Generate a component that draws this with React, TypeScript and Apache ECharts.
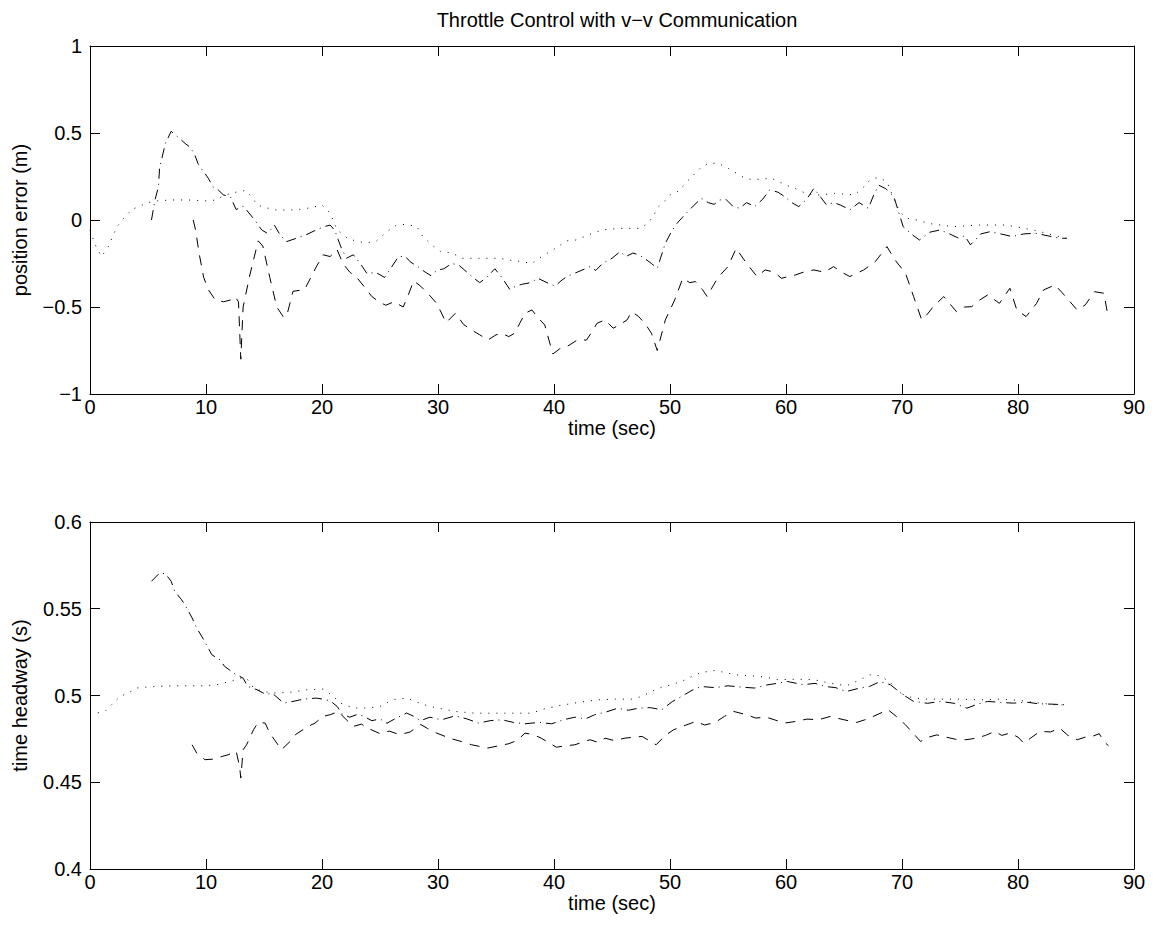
import React, { useEffect, useRef } from "react";
import * as echarts from "echarts";

// ---------- data (time [s], value) ----------
const xTicks = [0, 10, 20, 30, 40, 50, 60, 70, 80, 90];
const posTicks = [-1, -0.5, 0, 0.5, 1];
const headTicks = [0.4, 0.45, 0.5, 0.55, 0.6];

// position error (m) — dotted vehicle
const posDotted: [number, number][] = [
  [0, -0.06], [0.5, -0.15], [1.0, -0.21], [1.6, -0.15], [2.3, -0.04], [2.9, 0.01], [3.6, 0.06], [4.3, 0.08],
  [5.0, 0.1], [5.8, 0.11], [7, 0.115], [8.5, 0.115], [10, 0.11], [10.9, 0.115], [11.5, 0.14], [12.6, 0.16],
  [13.4, 0.17], [14.0, 0.13], [14.4, 0.086], [15.2, 0.07], [16.1, 0.057], [17.2, 0.057], [18.4, 0.063],
  [19.3, 0.075], [20.0, 0.086], [20.7, 0.04], [21.3, -0.057], [22.2, -0.105], [23.1, -0.125], [24.0, -0.13],
  [24.7, -0.12], [25.6, -0.067], [26.4, -0.03], [27.3, -0.024], [28.2, -0.04], [28.7, -0.096], [29.6, -0.15],
  [30.2, -0.18], [31.2, -0.19], [32.1, -0.22], [33.5, -0.22], [35.3, -0.22], [36.1, -0.23], [37.3, -0.24],
  [38.1, -0.25], [39.0, -0.207], [39.7, -0.18], [40.4, -0.15], [41.1, -0.12], [41.9, -0.115], [42.6, -0.096],
  [43.3, -0.077], [44.2, -0.057], [44.9, -0.053], [45.6, -0.048], [46.5, -0.048], [47.4, -0.048], [48.1, -0.02],
  [48.6, 0.029], [49.0, 0.076], [49.5, 0.105], [50.0, 0.144], [50.8, 0.168], [51.3, 0.21], [51.9, 0.25],
  [52.6, 0.297], [53.3, 0.326], [54.1, 0.326], [54.8, 0.306], [55.5, 0.278], [56.2, 0.249], [56.9, 0.234],
  [57.8, 0.234], [58.7, 0.24], [59.4, 0.22], [60.0, 0.2], [60.5, 0.19], [61.8, 0.15], [62.9, 0.144],
  [64.2, 0.153], [65.9, 0.144], [66.7, 0.19], [67.3, 0.234], [68.0, 0.245], [68.7, 0.22], [69.4, 0.105],
  [69.8, 0.048], [70.4, 0.01], [71.3, 0], [72.3, -0.02], [74.4, -0.038], [76.7, -0.029], [79.0, -0.029],
  [81.3, -0.057], [83.6, -0.096], [84.2, -0.105],
];

// position error (m) — dash-dot vehicle
const posDashDot: [number, number][] = [
  [5.3, 0], [5.6, 0.115], [5.9, 0.19], [6.0, 0.3], [6.5, 0.44], [7.0, 0.51], [7.3, 0.49], [7.7, 0.47],
  [8.2, 0.44], [8.6, 0.42], [9.0, 0.38], [9.3, 0.326], [9.7, 0.287], [10.2, 0.24], [10.6, 0.19], [11.1, 0.17],
  [11.5, 0.144], [12.1, 0.134], [12.6, 0.06], [13.2, 0.08], [13.5, 0.057], [14.2, 0], [14.8, -0.057],
  [15.3, -0.077], [15.9, -0.03], [16.3, -0.076], [16.9, -0.125], [17.8, -0.105], [18.6, -0.086], [19.5, -0.057],
  [20.1, -0.04], [20.7, -0.029], [21.1, -0.06], [21.6, -0.15], [22.1, -0.22], [22.7, -0.2], [23.3, -0.25],
  [23.9, -0.31], [24.6, -0.3], [25.4, -0.33], [26.0, -0.27], [26.6, -0.21], [27.2, -0.21], [27.6, -0.24],
  [28.3, -0.27], [28.9, -0.3], [29.4, -0.32], [29.9, -0.29], [30.5, -0.28], [31.2, -0.25], [31.8, -0.26],
  [32.5, -0.3], [33.0, -0.33], [33.6, -0.36], [34.2, -0.33], [34.9, -0.28], [35.5, -0.33], [36.2, -0.4],
  [36.7, -0.38], [37.2, -0.37], [38.0, -0.36], [38.6, -0.335], [39.4, -0.36], [40.1, -0.38], [40.6, -0.35],
  [41.1, -0.325], [42.0, -0.3], [43.1, -0.268], [43.6, -0.29], [44.2, -0.249], [45.0, -0.22], [45.7, -0.182],
  [46.2, -0.21], [46.8, -0.19], [47.3, -0.2], [47.8, -0.22], [48.4, -0.25], [48.9, -0.277], [49.6, -0.134],
  [50.1, -0.07], [50.6, -0.019], [51.0, 0.01], [51.4, 0.039], [52.0, 0.08], [52.7, 0.125], [53.3, 0.1],
  [53.8, 0.09], [54.3, 0.115], [54.8, 0.12], [55.4, 0.08], [56.0, 0.067], [56.6, 0.1], [57.3, 0.077],
  [58.0, 0.12], [58.6, 0.173], [59.3, 0.16], [59.9, 0.134], [60.5, 0.1], [61.1, 0.077], [61.8, 0.12],
  [62.4, 0.182], [63.0, 0.13], [63.5, 0.086], [64.1, 0.1], [64.7, 0.086], [65.5, 0.058], [66.3, 0.1],
  [67.1, 0.067], [67.6, 0.15], [68.0, 0.2], [68.6, 0.18], [69.3, 0.134], [70.1, -0.038], [70.8, -0.08],
  [71.5, -0.115], [72.4, -0.07], [73.3, -0.057], [74.1, -0.08], [74.9, -0.105], [75.4, -0.09], [75.9, -0.143],
  [76.8, -0.08], [77.6, -0.067], [78.5, -0.08], [79.5, -0.095], [80.5, -0.08], [81.5, -0.076], [82.5, -0.09],
  [83.6, -0.105], [84.2, -0.105],
];

// position error (m) — dashed vehicle
const posDashed: [number, number][] = [
  [8.9, 0], [9.1, -0.057], [9.4, -0.19], [9.8, -0.33], [10.2, -0.4], [10.8, -0.46], [11.5, -0.47], [12.1, -0.46],
  [12.5, -0.44], [12.8, -0.47], [13.0, -0.8], [13.2, -0.5], [13.8, -0.31], [14.5, -0.12], [14.9, -0.15],
  [15.5, -0.33], [16.1, -0.5], [16.7, -0.56], [17.0, -0.54], [17.5, -0.41], [18.5, -0.4], [19.5, -0.27],
  [20.1, -0.2], [20.7, -0.21], [21.3, -0.17], [21.8, -0.25], [22.4, -0.3], [23.0, -0.33], [23.6, -0.38],
  [24.3, -0.44], [24.9, -0.47], [25.5, -0.49], [26.2, -0.47], [27.0, -0.5], [27.5, -0.42], [27.9, -0.35],
  [28.5, -0.38], [29.1, -0.42], [29.9, -0.48], [30.7, -0.59], [31.5, -0.536], [32.2, -0.6], [32.9, -0.632],
  [33.6, -0.66], [34.3, -0.69], [35.0, -0.66], [35.5, -0.651], [36.1, -0.67], [36.6, -0.651], [37.5, -0.536],
  [38.1, -0.517], [38.6, -0.56], [39.2, -0.603], [39.9, -0.77], [40.5, -0.74], [41.1, -0.728], [42.0, -0.69],
  [42.8, -0.69], [43.3, -0.64], [43.7, -0.594], [44.4, -0.574], [45.1, -0.622], [45.7, -0.6], [46.3, -0.574],
  [46.7, -0.527], [47.3, -0.555], [47.9, -0.6], [48.4, -0.651], [48.9, -0.75], [49.6, -0.574], [50.4, -0.46],
  [51.1, -0.335], [51.7, -0.36], [52.2, -0.354], [52.8, -0.4], [53.2, -0.44], [53.7, -0.38], [54.2, -0.325],
  [55.0, -0.268], [55.7, -0.163], [56.6, -0.249], [57.5, -0.325], [58.2, -0.287], [59.0, -0.3], [59.6, -0.335],
  [60.8, -0.316], [61.5, -0.3], [62.4, -0.287], [63.3, -0.3], [64.1, -0.268], [64.8, -0.3], [65.5, -0.325],
  [66.7, -0.287], [67.7, -0.239], [68.7, -0.153], [69.4, -0.23], [70.3, -0.306], [71.0, -0.44], [71.7, -0.574],
  [72.2, -0.54], [72.7, -0.498], [73.6, -0.44], [74.7, -0.527], [75.4, -0.5], [76.0, -0.498], [76.7, -0.46],
  [77.4, -0.43], [78.4, -0.479], [79.3, -0.392], [79.9, -0.517], [80.7, -0.555], [81.6, -0.479], [82.2, -0.402],
  [83.2, -0.373], [84.1, -0.44], [85.1, -0.517], [85.8, -0.488], [86.6, -0.412], [87.4, -0.421], [87.8, -0.565],
];

// time headway (s) — dotted vehicle
const headDotted: [number, number][] = [
  [0, 0.489], [0.6, 0.4899], [1.3, 0.4908], [2.0, 0.4956], [2.6, 0.4995], [3.3, 0.5014], [4.0, 0.5043],
  [4.9, 0.5049], [6.0, 0.5053], [7.2, 0.5056], [8.6, 0.5056], [9.8, 0.5056], [10.9, 0.5062], [12.1, 0.5081],
  [12.9, 0.51], [13.5, 0.51], [14.1, 0.5043], [14.9, 0.5024], [15.8, 0.5014], [17.2, 0.5018], [18.7, 0.5033],
  [20.1, 0.5037], [20.8, 0.5004], [21.6, 0.4956], [22.7, 0.4928], [23.9, 0.4928], [25.0, 0.4937], [26.1, 0.4976],
  [27.3, 0.4985], [28.4, 0.4956], [29.3, 0.4937], [30.2, 0.4925], [31.5, 0.4908], [33.2, 0.4898], [34.9, 0.4898],
  [36.3, 0.4898], [38.1, 0.4898], [38.9, 0.4918], [40.4, 0.4941], [42.1, 0.496], [43.8, 0.4975], [45.3, 0.4979],
  [46.7, 0.4979], [47.6, 0.4995], [48.4, 0.5023], [49.3, 0.5048], [50.1, 0.5062], [51.0, 0.5081], [51.9, 0.511],
  [52.7, 0.5133], [53.9, 0.5144], [54.7, 0.5133], [55.7, 0.5119], [56.9, 0.5114], [58.2, 0.5106], [59.3, 0.5091],
  [60.9, 0.5094], [62.4, 0.5091], [63.8, 0.5071], [65.2, 0.5056], [66.4, 0.5091], [67.2, 0.5119], [68.1, 0.5114],
  [69.0, 0.5075], [69.8, 0.5014], [70.7, 0.4991], [71.8, 0.4979], [73.3, 0.4979], [75.0, 0.4979], [76.7, 0.4975],
  [78.4, 0.4979], [80.2, 0.4971], [81.9, 0.4956], [83.3, 0.4946], [84.3, 0.4946],
];

// time headway (s) — dash-dot vehicle
const headDashDot: [number, number][] = [
  [5.3, 0.5658], [6.0, 0.5706], [6.5, 0.5702], [7.0, 0.5658], [7.3, 0.56], [7.9, 0.5552], [8.5, 0.5485],
  [8.8, 0.5447], [9.2, 0.5389], [9.8, 0.5322], [10.5, 0.5235], [11.2, 0.5206], [11.6, 0.5168], [12.4, 0.5129],
  [13.2, 0.51], [13.6, 0.5052], [14.4, 0.5033], [15.2, 0.5005], [15.7, 0.5014], [16.7, 0.4956], [17.5, 0.4966],
  [18.4, 0.4979], [19.5, 0.4985], [20.1, 0.4979], [20.7, 0.497], [21.3, 0.4937], [21.8, 0.4889], [22.4, 0.4875],
  [23.0, 0.489], [23.5, 0.4883], [24.3, 0.4855], [25.0, 0.4865], [25.6, 0.484], [26.4, 0.487], [27.3, 0.4899],
  [27.9, 0.488], [28.5, 0.4855], [29.3, 0.4875], [30.3, 0.486], [31.5, 0.4883], [32.5, 0.4865], [33.5, 0.4841],
  [34.5, 0.4855], [35.5, 0.486], [36.5, 0.4845], [37.5, 0.4837], [38.7, 0.4845], [39.8, 0.4837], [40.8, 0.486],
  [41.8, 0.4875], [42.7, 0.4865], [43.5, 0.4889], [44.5, 0.4905], [45.5, 0.4927], [46.4, 0.4915], [47.3, 0.4927],
  [48.3, 0.493], [49.3, 0.4918], [50.2, 0.4965], [51.0, 0.4995], [51.9, 0.503], [52.7, 0.5052], [53.9, 0.5045],
  [55.0, 0.5056], [56.2, 0.5048], [57.3, 0.5043], [58.3, 0.506], [59.3, 0.5071], [60.1, 0.5081], [61.5, 0.5062],
  [62.5, 0.507], [63.4, 0.5052], [64.3, 0.5045], [65.2, 0.5023], [66.2, 0.504], [67.2, 0.5052], [68.1, 0.508],
  [69.0, 0.5062], [70.1, 0.5004], [71.0, 0.4966], [72.2, 0.4955], [73.3, 0.4966], [74.5, 0.4955], [75.6, 0.4927],
  [76.5, 0.495], [77.4, 0.4966], [78.5, 0.496], [79.6, 0.4956], [80.7, 0.4962], [81.8, 0.4952], [83.0, 0.495],
  [84.2, 0.4946],
];

// time headway (s) — dashed vehicle
const headDashed: [number, number][] = [
  [8.8, 0.4716], [9.2, 0.4668], [9.9, 0.463], [10.6, 0.4633], [11.4, 0.4649], [11.9, 0.4658], [12.6, 0.4678],
  [12.9, 0.459], [13.0, 0.4524], [13.2, 0.4687], [13.5, 0.4716], [14.1, 0.4803], [14.5, 0.4845], [15.1, 0.4841],
  [15.5, 0.4783], [16.1, 0.4726], [16.5, 0.4687], [17.4, 0.4745], [17.7, 0.4774], [18.8, 0.4822], [19.4, 0.4841],
  [20.1, 0.488], [20.7, 0.4889], [21.4, 0.4908], [22.1, 0.486], [22.7, 0.4822], [23.4, 0.4835], [24.0, 0.481],
  [25.0, 0.478], [25.8, 0.4795], [26.7, 0.4774], [27.6, 0.479], [28.5, 0.4833], [29.1, 0.481], [29.9, 0.4783],
  [31.0, 0.4754], [32.0, 0.4735], [32.9, 0.4716], [34.3, 0.4697], [35.2, 0.471], [36.1, 0.4722], [36.8, 0.474],
  [37.5, 0.4783], [38.2, 0.4775], [38.9, 0.4754], [40.2, 0.4702], [41.0, 0.471], [41.8, 0.4716], [43.1, 0.4745],
  [43.8, 0.473], [44.4, 0.4754], [45.2, 0.474], [46.1, 0.4754], [46.9, 0.476], [47.6, 0.4764], [48.2, 0.474],
  [48.8, 0.4716], [49.6, 0.477], [50.3, 0.4802], [51.2, 0.4825], [52.2, 0.485], [53.0, 0.483], [53.9, 0.4845],
  [54.7, 0.488], [55.5, 0.4908], [56.6, 0.4889], [57.4, 0.487], [58.3, 0.4875], [59.0, 0.486], [59.9, 0.4841],
  [60.8, 0.485], [61.8, 0.4864], [62.8, 0.486], [63.8, 0.4879], [65.0, 0.486], [66.1, 0.4845], [66.8, 0.486],
  [67.5, 0.4879], [68.8, 0.4918], [69.5, 0.488], [70.3, 0.4831], [71.0, 0.478], [71.6, 0.4735], [72.3, 0.476],
  [73.0, 0.4773], [73.8, 0.476], [74.6, 0.4748], [75.5, 0.4745], [76.4, 0.4754], [77.2, 0.477], [78.0, 0.4793],
  [78.6, 0.477], [79.3, 0.4783], [80.0, 0.476], [80.5, 0.4725], [81.2, 0.476], [81.9, 0.4793], [82.8, 0.479],
  [83.6, 0.4812], [84.3, 0.477], [85.1, 0.4745], [85.8, 0.476], [86.4, 0.4764], [87.0, 0.478], [87.4, 0.4735],
  [87.8, 0.471],
];

const FONT = "'Liberation Sans', Arial, Helvetica, sans-serif";
const FS = 20;

const minusFmt = (v: number) => {
  const s = String(Math.round(v * 1000) / 1000);
  return v < 0 ? "\u2212" + s.slice(1) : s;
};

export default function App() {
  const ref = useRef<HTMLDivElement>(null);
  useEffect(() => {
    if (!ref.current) return;
    const chart = echarts.init(ref.current, undefined, { renderer: "svg" });

    const axisLine = { show: true, onZero: false, lineStyle: { color: "#000", width: 1 } };
    const tick = { show: true, inside: true, length: 10, lineStyle: { color: "#000", width: 1 } };
    const label = { color: "#000", fontSize: FS, fontFamily: FONT };

    const makeX = (gridIndex: number, pos: "bottom" | "top") => ({
      type: "value",
      gridIndex,
      position: pos,
      min: xTicks[0],
      max: xTicks[xTicks.length - 1],
      interval: 10,
      axisLine,
      axisTick: tick,
      splitLine: { show: false },
      axisLabel: pos === "bottom" ? { ...label, margin: 3 } : { show: false },
      name: pos === "bottom" ? "time (sec)" : "",
      nameLocation: "middle",
      nameGap: 18,
      nameTextStyle: { ...label },
    });

    const makeY = (
      gridIndex: number,
      pos: "left" | "right",
      ticks: number[],
      interval: number,
      name: string
    ) => ({
      type: "value",
      gridIndex,
      position: pos,
      min: ticks[0],
      max: ticks[ticks.length - 1],
      interval,
      axisLine,
      axisTick: tick,
      splitLine: { show: false },
      axisLabel: pos === "left" ? { ...label, margin: 8, formatter: minusFmt } : { show: false },
      name: pos === "left" ? name : "",
      nameLocation: "middle",
      nameGap: 60,
      nameRotate: 90,
      nameTextStyle: { ...label },
    });

    const line = (
      data: [number, number][],
      dash: number[],
      xi: number,
      yi: number
    ) => ({
      type: "line",
      xAxisIndex: xi,
      yAxisIndex: yi,
      data,
      symbol: "none",
      showSymbol: false,
      smooth: false,
      clip: true,
      lineStyle: { color: "#000", width: 1, type: dash },
      emphasis: { disabled: true },
    });

    const DOT = [1, 7];
    const DASHDOT = [10, 5, 1, 5];
    const DASH = [10, 8];

    chart.setOption({
      animation: false,
      backgroundColor: "#fff",
      title: {
        text: "Throttle Control with v\u2212v Communication",
        left: 612,
        top: 5,
        textAlign: "center",
        textStyle: { color: "#000", fontSize: FS, fontWeight: "normal", fontFamily: FONT },
      },
      grid: [
        { left: 90, top: 46, width: 1044, height: 348 },
        { left: 90, top: 522, width: 1044, height: 347 },
      ],
      xAxis: [makeX(0, "bottom"), makeX(0, "top"), makeX(1, "bottom"), makeX(1, "top")],
      yAxis: [
        makeY(0, "left", posTicks, 0.5, "position error (m)"),
        makeY(0, "right", posTicks, 0.5, ""),
        makeY(1, "left", headTicks, 0.05, "time headway (s)"),
        makeY(1, "right", headTicks, 0.05, ""),
      ],
      series: [
        line(posDotted, DOT, 0, 0),
        line(posDashDot, DASHDOT, 0, 0),
        line(posDashed, DASH, 0, 0),
        line(headDotted, DOT, 2, 2),
        line(headDashDot, DASHDOT, 2, 2),
        line(headDashed, DASH, 2, 2),
      ],
    });
    return () => chart.dispose();
  }, []);

  return (
    <div
      ref={ref}
      style={{ position: "fixed", left: 0, top: 0, width: 1157, height: 936, background: "#fff" }}
    />
  );
}
